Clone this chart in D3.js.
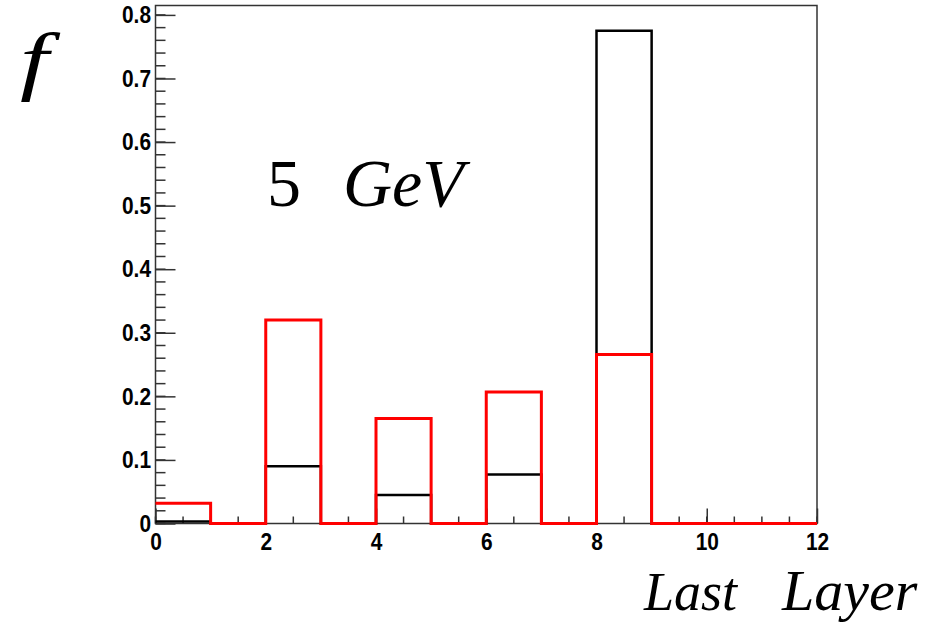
<!DOCTYPE html>
<html>
<head>
<meta charset="utf-8">
<script src="https://cdn.jsdelivr.net/npm/d3@7"></script>
<style>
  body { margin: 0; background: #fff; }
  svg { display: block; }
</style>
</head>
<body>
<div id="chart"></div>
<script>
// bin edges: 0..12, bin width 1
var binEdges = [0, 1, 2, 3, 4, 5, 6, 7, 8, 9, 10, 11, 12];
var blackVals = [0.003, 0, 0.090, 0, 0.045, 0, 0.077, 0, 0.775, 0, 0, 0];
var redVals = [0.032, 0, 0.320, 0, 0.165, 0, 0.207, 0, 0.266, 0, 0, 0];
var xMajor = [0, 2, 4, 6, 8, 10, 12];
var yMajor = [0, 0.1, 0.2, 0.3, 0.4, 0.5, 0.6, 0.7, 0.8];

var w = 933, h = 624;
var padL = 155.5, padR = 817, padT = 5.5, padB = 523.5;
var squeeze = 0.87; // tick labels look condensed

var svg = d3.select("#chart")
    .append("svg")
    .attr("width", w)
    .attr("height", h);

var x = d3.scaleLinear().domain([0, 12]).range([padL, padR]);
var y = d3.scaleLinear().domain([0, 0.8148]).range([padB, padT]);

// frame
svg.append("rect")
    .attr("x", padL).attr("y", padT)
    .attr("width", padR - padL).attr("height", padB - padT)
    .attr("fill", "none")
    .attr("stroke", "#333")
    .attr("stroke-width", 1.5);

// y minor ticks
var yMinor = d3.range(0, 0.81, 0.02);
svg.selectAll(".ymin")
    .data(yMinor)
    .enter()
    .append("line")
    .attr("x1", padL).attr("x2", padL + 10)
    .attr("y1", function(d) { return y(d); })
    .attr("y2", function(d) { return y(d); })
    .attr("stroke", "#333").attr("stroke-width", 1.5);

// x minor ticks
var xMinor = d3.range(0, 12.01, 0.5);
svg.selectAll(".xmin")
    .data(xMinor)
    .enter()
    .append("line")
    .attr("x1", function(d) { return x(d); })
    .attr("x2", function(d) { return x(d); })
    .attr("y1", padB).attr("y2", padB - 7)
    .attr("stroke", "#333").attr("stroke-width", 1.5);

function styleTicks(g) {
    g.select(".domain").remove();
    g.selectAll(".tick line").attr("stroke", "#333").attr("stroke-width", 1.5);
    g.selectAll(".tick text")
        .attr("fill", "#000")
        .attr("font-family", "'Liberation Sans', Arial, sans-serif")
        .attr("font-weight", "bold")
        .attr("font-size", 24)
        .attr("transform", "scale(" + squeeze + ",1)");
}

var yAxis = d3.axisLeft(y)
    .tickValues(yMajor)
    .tickSize(-20)
    .tickPadding(5)
    .tickFormat(function(d) { return d === 0 ? "0" : d3.format(".1f")(d); });

svg.append("g")
    .attr("transform", "translate(" + padL + ",0)")
    .call(yAxis)
    .call(styleTicks)
    .call(function(g) { g.selectAll(".tick text").attr("x", -4.5 / squeeze); });

var xAxis = d3.axisBottom(x)
    .tickValues(xMajor)
    .tickSize(-15)
    .tickPadding(9)
    .tickFormat(d3.format("d"));

svg.append("g")
    .attr("transform", "translate(0," + padB + ")")
    .call(xAxis)
    .call(styleTicks);

function stepPath(vals) {
    var pts = [];
    vals.forEach(function(v, i) {
        pts.push([x(binEdges[i]), y(v)]);
        pts.push([x(binEdges[i + 1]), y(v)]);
    });
    return d3.line()(pts);
}

svg.append("path")
    .attr("d", stepPath(blackVals))
    .attr("fill", "none")
    .attr("stroke", "#000")
    .attr("stroke-width", 2.5);

svg.append("path")
    .attr("d", stepPath(redVals))
    .attr("fill", "none")
    .attr("stroke", "#ff0000")
    .attr("stroke-width", 3);

// labels
function label(txt, lx, ly, size, italic) {
    return svg.append("text")
        .attr("x", lx).attr("y", ly)
        .attr("font-family", "'Liberation Serif', 'Times New Roman', serif")
        .attr("font-style", italic ? "italic" : "normal")
        .attr("font-size", size)
        .attr("fill", "#000")
        .text(txt);
}

label("f", 0, 0, 76, true)
    .attr("transform", "translate(20,86) scale(1.35,1)");
label("5", 267, 206, 68, false);
label("GeV", 343, 206, 68, true);
label("Last", 644, 610, 54, true);
label("Layer", 782, 610, 58, true);
</script>
</body>
</html>
